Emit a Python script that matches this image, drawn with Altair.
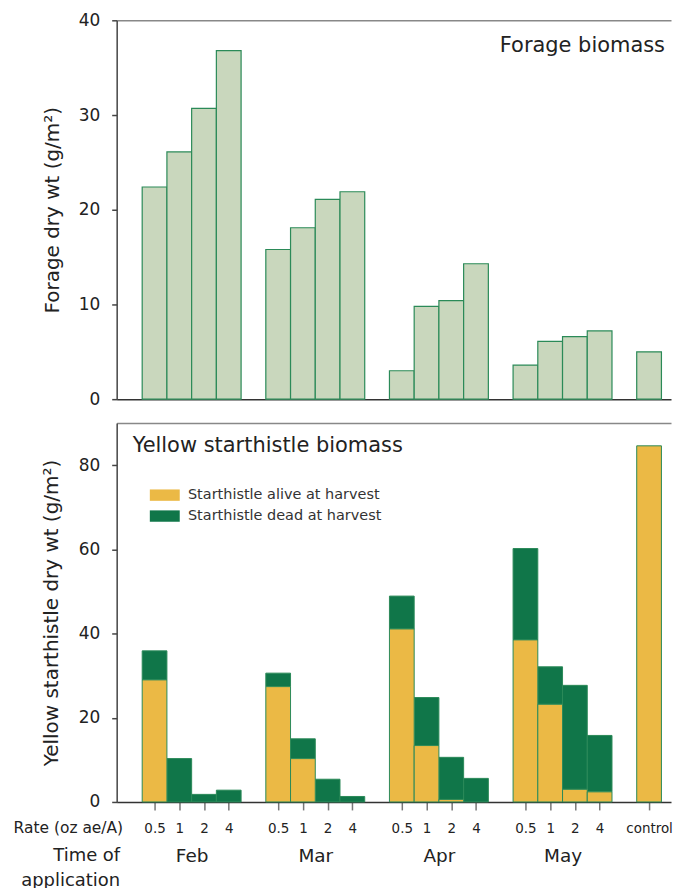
import altair as alt
import pandas as pd

# ---------------- data ----------------
months = ["Feb", "Mar", "Apr", "May"]
rates = ["0.5", "1", "2", "4"]
control = "control"

forage = [22.4, 26.1, 30.7, 36.8,
          15.8, 18.1, 21.1, 21.9,
          3.0, 9.8, 10.4, 14.3,
          3.6, 6.1, 6.6, 7.2,
          5.0]
alive = [29.0, 0.0, 0.0, 0.0,
         27.4, 10.3, 0.0, 0.0,
         41.1, 13.4, 0.6, 0.0,
         38.5, 23.2, 3.0, 2.4,
         84.6]
dead = [6.9, 10.3, 1.8, 2.8,
        3.2, 4.7, 5.4, 1.3,
        7.8, 11.4, 10.0, 5.6,
        21.7, 8.9, 24.7, 13.4,
        0.0]

ALIVE = "Starthistle alive at harvest"
DEAD = "Starthistle dead at harvest"
TOP_LABEL = "Forage biomass"
BOTTOM_LABEL = "Yellow starthistle biomass"

FONT = "DejaVu Sans"
C_FORAGE = "#c9d7bd"
C_EDGE = "#2b8a58"
C_ALIVE = "#ebb945"
C_DEAD = "#107649"
W, H = 556, 380

# slots: four rates per month, one empty slot between months, control last
pos = [m * 5 + r for m in range(len(months)) for r in range(len(rates))] + [len(months) * 5]
labels = rates * len(months) + [control]
month_of = [m for m in months for _ in rates] + [""]

df = pd.DataFrame({"pos": pos, "rate": labels, "month": month_of,
                   "forage": forage, "alive": alive, "dead": dead})

slot_labels = [""] * (max(pos) + 1)
for p, l in zip(pos, labels):
    slot_labels[p] = l
rate_expr = "[" + ",".join("'%s'" % s for s in slot_labels) + "][round(datum.value)]"
month_centers = [m * 5 + 1.5 for m in range(len(months))]
month_expr = "[" + ",".join("'%s'" % s for s in months) + "][floor(datum.value / 5)]"

xscale = alt.Scale(domain=[-1.532, 20.887], nice=False, zero=False)


def panel_label(text, align, x, y):
    return alt.Chart(pd.DataFrame({"t": [text]})).mark_text(
        align=align, baseline="middle", fontSize=21, font=FONT, color="#222"
    ).encode(text="t:N", x=alt.value(x), y=alt.value(y))


# ---------------- top panel ----------------
top_base = alt.Chart(df).transform_calculate(
    left="datum.pos - 0.5", right="datum.pos + 0.5")

y_top = alt.Y("forage:Q", scale=alt.Scale(domain=[0, 40], nice=False),
              axis=alt.Axis(values=[0, 10, 20, 30, 40],
                            title="Forage dry wt (g/m²)", titlePadding=16))

top_bars = top_base.mark_bar(fill=C_FORAGE, stroke=C_EDGE, strokeWidth=1.2).encode(
    x=alt.X("left:Q", scale=xscale,
            axis=alt.Axis(orient="bottom", labels=False, ticks=False, title=None,
                          domainColor="#333", domainWidth=1.5)),
    x2="right:Q",
    y=y_top,
    y2=alt.datum(0),
)
top_frame = top_base.mark_bar(opacity=0).encode(
    x=alt.X("left:Q", scale=xscale,
            axis=alt.Axis(orient="top", labels=False, ticks=False, title=None,
                          domainColor="#888", domainWidth=1.5)),
    x2="right:Q",
    y=y_top,
    y2=alt.datum(0),
)
top = alt.layer(top_bars, top_frame, panel_label(TOP_LABEL, "right", W - 6, 26)
                ).resolve_axis(x="independent").properties(width=W, height=H)

# ---------------- bottom panel ----------------
bot_base = alt.Chart(df).transform_calculate(
    left="datum.pos - 0.5", right="datum.pos + 0.5",
    total="datum.alive + datum.dead")

y_bot_scale = alt.Scale(domain=[0, 90], nice=False)
y_bot_axis = alt.Axis(values=[0, 20, 40, 60, 80],
                      title="Yellow starthistle dry wt (g/m²)", titlePadding=17)

color_scale = alt.Scale(domain=[ALIVE, DEAD], range=[C_ALIVE, C_DEAD])
legend = alt.Legend(title=None, orient="none", legendX=41, legendY=65,
                    symbolType="M-2.5,-0.95H2.5V0.95H-2.5Z", symbolSize=144,
                    symbolStrokeWidth=0, symbolOpacity=1,
                    labelFontSize=14.5, labelFont=FONT, labelColor="#333",
                    labelOffset=16, rowPadding=6, padding=0, labelLimit=400)

rate_axis = alt.Axis(orient="bottom", values=pos, labelExpr=rate_expr,
                     tickSize=8, tickColor="#777", tickWidth=1.5,
                     domainColor="#333", domainWidth=1.5,
                     labelFontSize=13.5, labelPadding=12, labelColor="#222",
                     title="Rate (oz ae/A)", titleAngle=0, titleAlign="right",
                     titleBaseline="alphabetic", titleX=6, titleY=31,
                     titleFontSize=15.5, grid=False)
month_axis = alt.Axis(orient="bottom", values=month_centers, labelExpr=month_expr,
                      ticks=False, tickSize=0, domain=False,
                      labelFontSize=18.5, labelPadding=45, labelColor="#222",
                      title=["Time of", "application"], titleAngle=0,
                      titleAlign="right", titleBaseline="alphabetic",
                      titleX=3, titleY=59, titleFontSize=18, titleLineHeight=24.5,
                      grid=False)

dead_bars = bot_base.transform_filter("datum.dead > 0").transform_calculate(
    series="'%s'" % DEAD).mark_bar(stroke=C_EDGE, strokeWidth=1).encode(
    x=alt.X("left:Q", scale=xscale, axis=rate_axis),
    x2="right:Q",
    y=alt.Y("alive:Q", scale=y_bot_scale, axis=y_bot_axis),
    y2="total:Q",
    color=alt.Color("series:N", scale=color_scale, legend=legend),
)
alive_bars = bot_base.transform_filter("datum.alive > 0").transform_calculate(
    series="'%s'" % ALIVE).mark_bar(stroke=C_EDGE, strokeWidth=1).encode(
    x=alt.X("left:Q", scale=xscale, axis=month_axis),
    x2="right:Q",
    y=alt.Y("alive:Q", scale=y_bot_scale, axis=y_bot_axis),
    y2=alt.datum(0),
    color=alt.Color("series:N", scale=color_scale, legend=legend),
)
bot_frame = bot_base.mark_bar(opacity=0).encode(
    x=alt.X("left:Q", scale=xscale,
            axis=alt.Axis(orient="top", labels=False, ticks=False, title=None,
                          domainColor="#888", domainWidth=1.5)),
    x2="right:Q",
    y=alt.Y("total:Q", scale=y_bot_scale, axis=y_bot_axis),
    y2=alt.datum(0),
)
bottom = alt.layer(dead_bars, alive_bars, bot_frame,
                   panel_label(BOTTOM_LABEL, "left", 16, 23)
                   ).resolve_axis(x="independent").properties(width=W, height=H)

chart = alt.vconcat(top, bottom, spacing=14).resolve_legend(color="independent").properties(
    padding={"left": 4, "top": 1, "right": 0, "bottom": 10}
).configure(font=FONT).configure_view(stroke="transparent").configure_axis(
    labelFont=FONT, titleFont=FONT, labelColor="#222", titleColor="#222",
    titleFontWeight="normal", grid=False,
).configure_axisY(
    labelFontSize=17, titleFontSize=20, tickSize=5, labelPadding=12,
    domainColor="#444", domainWidth=1.5, tickColor="#444", tickWidth=1.5,
)

chart.save("out.html", embed_options={"renderer": "svg", "actions": False})
